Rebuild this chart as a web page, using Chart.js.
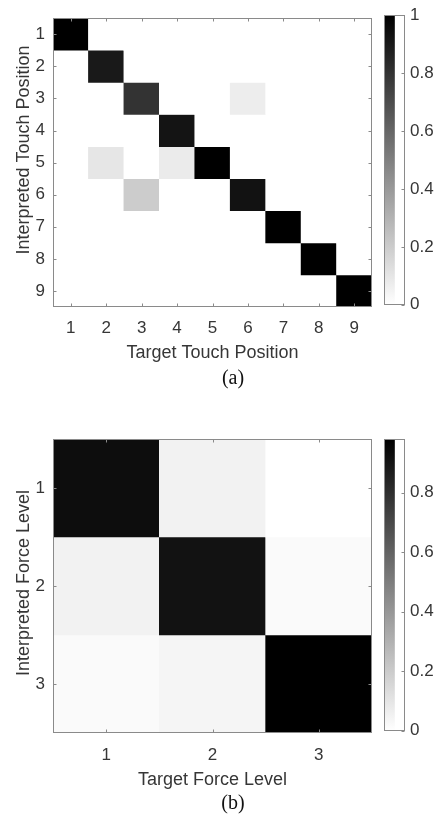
<!DOCTYPE html>
<html>
<head>
<meta charset="utf-8">
<script src="https://cdn.jsdelivr.net/npm/chart.js@4"></script>
<style>
  html, body { margin: 0; padding: 0; background: #fff; }
  body { width: 438px; height: 816px; position: relative; overflow: hidden; }
  .box { position: absolute; }
  .cap { position: absolute; width: 100px; text-align: center; font-family: "Liberation Serif", "Times New Roman", serif; font-size: 20px; color: #111; line-height: 24px; }
</style>
</head>
<body>
<div class="box" style="left:0;top:0;width:380px;height:372px"><canvas id="hmA"></canvas></div>
<div class="box" style="left:380px;top:0;width:58px;height:320px"><canvas id="cbA"></canvas></div>
<div class="cap" style="left:183px;top:365px">(a)</div>
<div class="box" style="left:0;top:420px;width:380px;height:375px"><canvas id="hmB"></canvas></div>
<div class="box" style="left:380px;top:420px;width:58px;height:326px"><canvas id="cbB"></canvas></div>
<div class="cap" style="left:183px;top:790px">(b)</div>
<script>
// ---- Data ----
const touchTargetLabels = ['1','2','3','4','5','6','7','8','9'];
const touchInterpLabels = ['1','2','3','4','5','6','7','8','9'];
// rows = interpreted position, columns = target position
const touchRow1 = [1.00, 0, 0, 0, 0, 0, 0, 0, 0];
const touchRow2 = [0, 0.90, 0, 0, 0, 0, 0, 0, 0];
const touchRow3 = [0, 0, 0.80, 0, 0, 0.07, 0, 0, 0];
const touchRow4 = [0, 0, 0, 0.92, 0, 0, 0, 0, 0];
const touchRow5 = [0, 0.10, 0, 0.08, 1.00, 0, 0, 0, 0];
const touchRow6 = [0, 0, 0.20, 0, 0, 0.93, 0, 0, 0];
const touchRow7 = [0, 0, 0, 0, 0, 0, 1.00, 0, 0];
const touchRow8 = [0, 0, 0, 0, 0, 0, 0, 1.00, 0];
const touchRow9 = [0, 0, 0, 0, 0, 0, 0, 0, 1.00];
const touchMatrix = [touchRow1, touchRow2, touchRow3, touchRow4, touchRow5, touchRow6, touchRow7, touchRow8, touchRow9];
const touchBarTicks = [0, 0.2, 0.4, 0.6, 0.8, 1];

const forceTargetLabels = ['1','2','3'];
const forceInterpLabels = ['1','2','3'];
const forceRow1 = [0.93, 0.05, 0.00];
const forceRow2 = [0.05, 0.91, 0.02];
const forceRow3 = [0.02, 0.04, 0.98];
const forceMatrix = [forceRow1, forceRow2, forceRow3];
const forceBarTicks = [0, 0.2, 0.4, 0.6, 0.8];

// ---- Styling ----
const FONT = '"Liberation Sans", Arial, Helvetica, sans-serif';
const TXT = '#363636';
const EDGE = '#8a8a8a';

function grayFor(v, vmin, vmax) {
  let t = (v - vmin) / (vmax - vmin);
  t = Math.max(0, Math.min(1, t));
  const g = Math.round(255 * (1 - t));
  return 'rgb(' + g + ',' + g + ',' + g + ')';
}

const boxPlugin = {
  id: 'matlabBox',
  afterDatasetsDraw(chart, args, opts) {
    const { ctx, chartArea: a, scales } = chart;
    ctx.save();
    ctx.strokeStyle = EDGE;
    ctx.lineWidth = 1;
    const L = Math.round(a.left) + 0.5, R = Math.round(a.right) - 0.5;
    const T = Math.round(a.top) + 0.5, B = Math.round(a.bottom) - 0.5;
    ctx.strokeRect(L, T, R - L, B - T);
    const tl = 3;
    ctx.beginPath();
    if (!opts.colorbar) {
      scales.x.ticks.forEach((tk, i) => {
        const px = Math.round(scales.x.getPixelForTick(i)) + 0.5;
        ctx.moveTo(px, B); ctx.lineTo(px, B - tl);
        ctx.moveTo(px, T); ctx.lineTo(px, T + tl);
      });
    }
    const ys = scales.y;
    ys.ticks.forEach((tk) => {
      const py = Math.round(ys.getPixelForValue(tk.value)) + 0.5;
      if (opts.colorbar) {
        ctx.moveTo(R, py); ctx.lineTo(R - tl, py);
      } else {
        ctx.moveTo(L, py); ctx.lineTo(L + tl, py);
        ctx.moveTo(R, py); ctx.lineTo(R - tl, py);
      }
    });
    ctx.stroke();
    ctx.restore();
  }
};

// vertical axis title drawn as rotated text at a fixed place
const yTitlePlugin = {
  id: 'yTitle',
  afterDraw(chart, args, opts) {
    if (!opts || !opts.text) return;
    const ctx = chart.ctx;
    ctx.save();
    ctx.translate(opts.x, opts.y);
    ctx.rotate(-Math.PI / 2);
    ctx.font = '18px ' + FONT;
    ctx.fillStyle = TXT;
    ctx.textAlign = 'center';
    ctx.textBaseline = 'middle';
    ctx.fillText(opts.text, 0, 0);
    ctx.restore();
  }
};

function heatmap(id, xLabels, yLabels, matrix, vmin, vmax, xTitle, yTitle, yTitlePos, padTop, axisH, tickPad, titlePadB) {
  const datasets = matrix.map((row, r) => ({
    data: row.map(() => [r + 0.5, r + 1.5]),
    backgroundColor: row.map(v => grayFor(v, vmin, vmax)),
    borderWidth: 0,
    grouped: false,
    categoryPercentage: 1,
    barPercentage: 1
  }));
  return new Chart(document.getElementById(id), {
    type: 'bar',
    data: { labels: xLabels, datasets },
    plugins: [boxPlugin, yTitlePlugin],
    options: {
      responsive: true,
      maintainAspectRatio: false,
      animation: false,
      events: [],
      layout: { padding: { top: padTop, left: 0, right: 8, bottom: 0 } },
      plugins: {
        legend: { display: false }, tooltip: { enabled: false },
        matlabBox: { colorbar: false },
        yTitle: { text: yTitle, x: yTitlePos[0], y: yTitlePos[1] }
      },
      scales: {
        x: {
          type: 'category',
          offset: true,
          grid: { display: false, drawTicks: false },
          border: { display: false },
          ticks: { color: TXT, font: { family: FONT, size: 17 }, padding: tickPad, maxRotation: 0 },
          title: { display: true, text: xTitle, color: TXT, font: { family: FONT, size: 18 }, padding: { top: 0, bottom: titlePadB } },
          afterFit(s) { s.height = axisH; }
        },
        y: {
          type: 'linear',
          reverse: true,
          min: 0.5,
          max: yLabels.length + 0.5,
          grid: { display: false, drawTicks: false },
          border: { display: false },
          afterBuildTicks(s) { s.ticks = yLabels.map((_, i) => ({ value: i + 1 })); },
          ticks: { color: TXT, font: { family: FONT, size: 17 }, padding: 8, callback: (v) => yLabels[Math.round(v) - 1] },
          afterFit(s) { s.width = 53; }
        }
      }
    }
  });
}

function colorbar(id, tickVals, vmin, vmax, padTop, padBottom) {
  return new Chart(document.getElementById(id), {
    type: 'bar',
    data: {
      labels: [''],
      datasets: [{
        data: [[vmin, vmax]],
        borderWidth: 0,
        categoryPercentage: 1,
        barPercentage: 1,
        backgroundColor(ctx) {
          const ch = ctx.chart;
          if (!ch.chartArea) return '#888';
          const y = ch.scales.y;
          const g = ch.ctx.createLinearGradient(0, y.getPixelForValue(vmin), 0, y.getPixelForValue(vmax));
          g.addColorStop(0, '#ffffff');
          g.addColorStop(1, '#000000');
          return g;
        }
      }]
    },
    plugins: [boxPlugin],
    options: {
      responsive: true,
      maintainAspectRatio: false,
      animation: false,
      events: [],
      layout: { padding: { top: padTop, left: 4, right: 0, bottom: padBottom } },
      plugins: { legend: { display: false }, tooltip: { enabled: false }, matlabBox: { colorbar: true } },
      scales: {
        x: { display: false, offset: false },
        y: {
          position: 'right',
          min: vmin,
          max: vmax,
          grid: { display: false, drawTicks: false },
          border: { display: false },
          afterBuildTicks(s) { s.ticks = tickVals.map(v => ({ value: v })); },
          ticks: { color: TXT, font: { family: FONT, size: 17 }, padding: 5, callback: (v) => String(Math.round(v * 10) / 10) },
          afterFit(s) { s.width = 33; }
        }
      }
    }
  });
}

const touchMax = Math.max(...touchMatrix.flat());
const touchMin = Math.min(...touchMatrix.flat());
const forceMax = Math.max(...forceMatrix.flat());
const forceMin = Math.min(...forceMatrix.flat());

heatmap('hmA', touchTargetLabels, touchInterpLabels, touchMatrix, touchMin, touchMax,
  'Target Touch Position', 'Interpreted Touch Position', [24, 150], 13, 65, 11, 8);
colorbar('cbA', touchBarTicks, touchMin, touchMax, 12, 13);
heatmap('hmB', forceTargetLabels, forceInterpLabels, forceMatrix, forceMin, forceMax,
  'Target Force Level', 'Interpreted Force Level', [24, 163], 19, 62, 12, 4);
colorbar('cbB', forceBarTicks, forceMin, forceMax, 19, 13);
</script>
</body>
</html>
